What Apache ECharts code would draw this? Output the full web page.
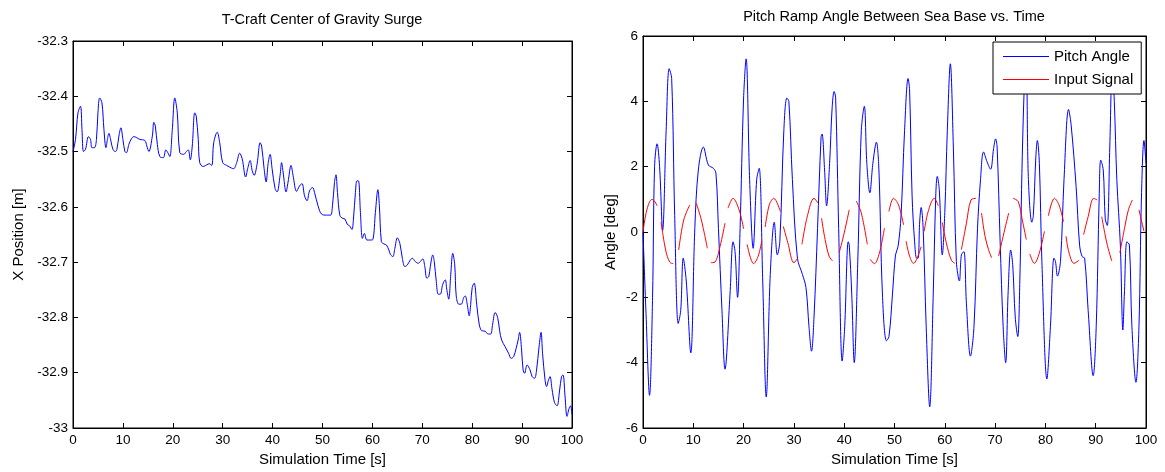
<!DOCTYPE html>
<html>
<head>
<meta charset="utf-8">
<script src="https://cdn.jsdelivr.net/npm/echarts@6/dist/echarts.min.js"></script>
<style>
html,body{margin:0;padding:0;background:#fff;}
#chart{width:1165px;height:472px;}
</style>
</head>
<body>
<div id="chart"></div>
<script>
// ---------- data ----------
const leftTitle = 'T-Craft Center of Gravity Surge';
const rightTitle = 'Pitch Ramp Angle Between Sea Base vs. Time';
const xName = 'Simulation Time [s]';
const leftYName = 'X Position [m]';
const rightYName = 'Angle [deg]';
const seriesNames = ['Pitch Angle', 'Input Signal'];

// Left chart: CG surge
const surgeT = [0,0.5,1.0,1.5,1.8,2.1,2.5,3.1,3.5,3.8,
4.3,4.7,5.0,5.35,5.8,6.2,6.6,6.9,7.2,7.6,
8.0,8.5,8.8,9.2,9.6,10.0,10.4,10.7,11.2,11.7,
12.2,13.4,14.4,14.8,15.2,15.9,16.2,16.5,16.9,17.4,
18.1,18.6,19.0,19.4,19.9,20.4,20.9,21.4,22.2,22.7,
23.1,23.5,23.9,24.4,24.7,25.1,25.4,26.1,26.8,27.3,
27.8,28.2,28.9,29.4,30.0,30.8,31.8,32.2,32.8,33.4,
33.9,34.6,35.0,35.5,35.9,36.3,36.9,37.5,37.8,38.3,
38.7,39.1,39.5,39.9,40.5,40.9,41.5,41.8,42.1,42.7,
43.1,43.7,44.1,44.8,
45.4,45.9,46.4,46.9,47.4,48.0,48.4,49.1,49.8,50.8,
51.6,52.0,52.4,52.7,53.0,53.5,54.1,54.5,55.0,55.4,
55.9,56.2,56.6,56.9,57.2,57.6,58.0,58.4,58.9,59.6,
60.1,60.6,61.1,61.4,61.8,62.3,62.8,63.3,63.6,64.1,
64.5,65.0,65.5,66.0,66.5,67.0,67.6,68.0,68.6,69.2,
69.6,70.1,70.5,70.9,71.3,71.6,72.1,72.4,72.8,73.2,
73.6,74.1,74.6,74.9,75.3,75.7,76.1,76.5,76.8,77.3,
77.8,78.3,78.6,79.0,79.4,79.7,80.0,80.4,80.9,81.4,
81.9,82.6,83.2,83.7,84.1,84.6,85.1,85.5,85.9,86.6,
87.3,87.8,88.3,88.8,89.2,89.5,89.9,90.2,90.5,91.0,
91.6,92.0,92.5,92.9,93.4,93.8,94.1,94.6,94.9,95.3,
95.6,96.0,96.5,97.0,97.5,97.9,98.2,98.6,99.0,99.4,
99.7,100];
const surgeX = [-32.500,-32.478,-32.430,-32.418,-32.460,-32.500,-32.496,-32.473,-32.478,-32.493,
-32.493,-32.478,-32.430,-32.403,-32.412,-32.460,-32.493,-32.478,-32.467,-32.481,
-32.496,-32.500,-32.496,-32.472,-32.457,-32.478,-32.500,-32.502,-32.487,-32.477,
-32.473,-32.478,-32.480,-32.490,-32.500,-32.472,-32.447,-32.454,-32.487,-32.509,
-32.511,-32.497,-32.502,-32.509,-32.460,-32.403,-32.430,-32.502,-32.505,-32.500,
-32.497,-32.515,-32.490,-32.430,-32.436,-32.478,-32.520,-32.527,-32.524,-32.522,
-32.525,-32.484,-32.465,-32.484,-32.520,-32.525,-32.530,-32.531,-32.520,-32.503,
-32.513,-32.546,-32.531,-32.516,-32.534,-32.543,-32.522,-32.484,-32.490,-32.531,
-32.555,-32.522,-32.505,-32.531,-32.567,-32.573,-32.543,-32.520,-32.537,-32.573,
-32.555,-32.525,-32.543,-32.572,
-32.562,-32.558,-32.580,-32.589,-32.571,-32.565,-32.574,-32.598,-32.613,-32.615,
-32.615,-32.598,-32.556,-32.542,-32.574,-32.616,-32.621,-32.622,-32.632,-32.634,
-32.641,-32.622,-32.574,-32.553,-32.553,-32.610,-32.657,-32.648,-32.660,-32.660,
-32.659,-32.610,-32.569,-32.598,-32.663,-32.667,-32.669,-32.678,-32.686,-32.690,
-32.675,-32.656,-32.666,-32.693,-32.708,-32.705,-32.696,-32.693,-32.699,-32.702,
-32.699,-32.694,-32.708,-32.729,-32.726,-32.708,-32.687,-32.699,-32.735,-32.758,
-32.758,-32.740,-32.732,-32.749,-32.767,-32.723,-32.684,-32.705,-32.761,-32.776,
-32.776,-32.764,-32.761,-32.776,-32.797,-32.776,-32.746,-32.738,-32.776,-32.812,
-32.824,-32.825,-32.830,-32.830,-32.812,-32.791,-32.800,-32.824,-32.841,-32.853,
-32.865,-32.874,-32.871,-32.856,-32.841,-32.827,-32.859,-32.895,-32.901,-32.886,
-32.895,-32.907,-32.910,-32.895,-32.853,-32.827,-32.865,-32.913,-32.925,-32.913,
-32.907,-32.930,-32.954,-32.960,-32.933,-32.907,-32.904,-32.942,-32.979,-32.965,
-32.960,-32.975];

// Right chart: pitch angle
const pitchT = [0,0.6,1.3,1.9,2.3,2.8,3.3,3.9,4.6,5.2,
5.7,6.3,7.0,7.5,8.0,8.6,9.5,10.3,11.0,12.0,
13.0,14.0,14.5,15.0,15.7,16.3,17.3,17.9,18.3,18.8,
19.3,20.0,20.5,21.2,21.9,22.6,23.1,23.8,24.5,25.3,
26.1,26.7,27.2,28.0,28.6,29.0,29.7,30.7,31.7,32.4,
33.0,33.5,34.0,34.7,35.4,35.6,36.1,36.5,37.1,37.6,
38.0,38.3,38.9,39.6,40.1,40.8,41.0,41.5,42.0,42.7,
43.4,44.0,44.5,45.1,45.7,46.4,46.9,47.6,48.4,48.9,
49.6,50.2,50.7,51.3,52.0,52.7,53.0,53.5,54.0,54.4,
54.7,55.0,55.3,55.7,56.3,57.0,57.7,58.2,58.5,58.9,
59.5,60.0,60.5,61.1,61.7,62.3,62.9,63.3,63.8,64.3,
65.1,65.8,66.5,67.1,67.7,68.4,69.1,69.7,70.1,70.4,
71.0,71.6,72.1,72.6,73.1,73.5,74.0,74.5,74.9,75.4,
75.9,76.2,76.6,77.3,77.6,78.1,78.4,78.8,79.3,80.3,
81.0,81.7,82.0,82.4,83.0,83.7,84.6,85.1,86.1,86.8,
87.3,87.8,88.5,89.5,90.1,90.7,91.0,91.5,91.9,92.3,
92.8,93.3,93.7,94.2,94.9,95.4,95.7,96.2,96.7,97.2,
98.0,98.6,99.1,99.6,100];
const pitchV = [0,-2.5,-5.0,-2.0,2.0,2.7,2.0,0.05,3.1,5.0,
4.7,0.5,-2.8,-2.4,-0.8,-1.5,-3.7,0.1,1.9,2.6,
2.05,1.95,1.8,0.1,-2.4,-4.2,-1.9,-0.3,-0.6,-2.0,
0.1,4.1,5.3,1.6,-0.5,1.6,1.95,-1.5,-5.05,-1.3,
0.3,-0.7,-0.3,3.1,4.1,4.0,1.6,-0.8,-1.3,-1.7,
-2.9,-3.65,-2.6,0.1,2.9,3.0,1.9,0.8,2.1,3.8,
4.3,4.1,0.1,-3.95,-2.9,-0.3,-0.4,-1.9,-4.0,-0.9,
3.1,3.85,2.1,1.2,2.1,2.75,1.9,-1.9,-3.33,-3.2,
-1.9,-0.7,-0.45,0.5,3.1,4.7,4.35,1.1,-0.3,-0.8,
-0.8,0.3,0.75,0.1,-2.9,-5.35,-1.9,1.1,1.7,1.3,
-0.7,0.6,3.1,5.15,2.6,-0.9,-1.5,-0.7,-0.6,-2.2,
-3.8,-2.9,0.1,1.6,2.45,2.15,1.92,2.55,2.85,2.6,
-0.3,-2.9,-4.0,-1.8,-0.55,-1.0,-2.6,-3.2,-1.6,2.3,
4.8,5.1,1.7,0.3,0.5,2.3,2.8,2.1,-0.9,-4.5,
-2.9,-0.8,-0.9,-1.35,-0.9,1.6,3.75,3.3,1.4,-0.4,
-0.75,-0.8,-2.4,-4.4,-2.9,1.1,2.2,1.9,0.4,0.2,
2.6,5.1,4.0,1.6,-0.4,-3.0,-1.9,-0.3,-0.4,-2.9,
-4.6,-2.9,1.1,2.8,2.1];

// Right chart: input signal (null = break between segments)
const inputT = [0,0.8,1.8,2.4,2.8,null,
3.6,4.5,5.3,6.0,null,
7.1,8.1,9.3,null,
10.6,11.6,12.8,null,
13.5,14.3,15.3,16.3,null,
16.9,17.9,19.1,20.0,null,
20.7,22.0,22.9,23.6,null,
24.3,25.1,26.0,27.3,null,
27.9,28.8,30.0,30.8,null,
31.6,32.7,34.0,34.8,null,
35.5,36.2,37.0,37.7,null,
39.0,40.0,41.0,null,
42.4,43.4,44.6,null,
45.2,46.0,47.0,48.0,null,
48.9,49.8,50.8,51.8,null,
52.3,53.0,53.8,54.4,55.3,null,
55.9,56.7,57.9,58.7,null,
59.5,60.3,61.3,62.0,null,
63.3,64.3,65.2,66.2,null,
67.3,68.0,68.7,69.3,null,
70.7,71.6,72.7,null,
73.6,74.6,75.4,76.2,null,
76.9,77.8,78.8,79.8,null,
80.6,81.8,82.7,83.6,null,
84.1,84.7,85.7,86.7,null,
87.6,88.5,89.6,90.3,null,
91.2,92.2,93.2,null,
94.8,95.8,96.5,97.3,null,
98.6,99.6];
const inputV = [0,0.7,1.0,0.92,0.8,null,
0.3,-0.55,-0.92,-0.97,null,
-0.55,0.37,0.83,null,
0.88,0.37,-0.5,null,
-0.94,-0.92,-0.45,0.27,null,
0.73,1.03,0.68,0.1,null,
-0.38,-0.97,-0.74,-0.28,null,
0.15,0.83,1.03,0.63,null,
0.17,-0.33,-0.94,-0.79,null,
-0.38,0.5,1.03,0.88,null,
0.42,-0.23,-0.74,-0.89,null,
-0.64,-0.03,0.68,null,
0.95,0.58,-0.38,null,
-0.84,-0.97,-0.64,0.12,null,
0.63,1.03,0.83,0.22,null,
-0.28,-0.74,-0.96,-0.84,-0.45,null,
0.02,0.63,1.03,0.8,null,
0.29,-0.33,-0.86,-0.96,null,
-0.54,0.27,0.98,1.03,null,
0.58,-0.13,-0.54,-0.79,null,
-0.74,-0.13,0.58,null,
1.03,0.93,0.37,-0.23,null,
-0.67,-0.96,-0.64,0.02,null,
0.5,1.03,0.83,0.32,null,
-0.13,-0.64,-0.96,-0.86,null,
-0.08,0.47,1.03,0.98,null,
0.47,-0.33,-0.89,null,
-0.64,0.17,0.68,0.98,null,
0.68,0.02];

// ---------- chart ----------
const FONT = '"Liberation Sans", Arial, Helvetica, sans-serif';
const pair = (ts, vs) => ts.map((t, i) => (t === null || vs[i] === null) ? ['-', '-'] : [t, vs[i]]);

const chart = echarts.init(document.getElementById('chart'), null, {renderer: 'canvas'});

const tickStyle = {show: true, inside: true, length: 5, lineStyle: {color: '#000', width: 1}};
const lineAx = {show: true, onZero: false, lineStyle: {color: '#000', width: 1}};
const lbl = {color: '#000', fontSize: 13.5, fontFamily: FONT};
const legendIcon = 'path://M0,0L46,0L46,1.2L0,1.2Z';

function xAxes(gi) {
  return [
    {type: 'value', gridIndex: gi, position: 'bottom', min: 0, max: 100, interval: 10,
     axisLine: lineAx, axisTick: tickStyle, splitLine: {show: false},
     axisLabel: Object.assign({margin: 5}, lbl),
     name: xName, nameLocation: 'middle', nameGap: 24,
     nameTextStyle: {color: '#000', fontSize: 15, fontFamily: FONT}},
    {type: 'value', gridIndex: gi, position: 'top', min: 0, max: 100, interval: 10,
     axisLine: lineAx, axisTick: tickStyle, splitLine: {show: false},
     axisLabel: {show: false}}
  ];
}
function yAxes(gi, mn, mx, iv, name, gap, fmt) {
  return [
    {type: 'value', gridIndex: gi, position: 'left', min: mn, max: mx, interval: iv,
     axisLine: lineAx, axisTick: tickStyle, splitLine: {show: false},
     axisLabel: Object.assign({margin: 5, formatter: fmt}, lbl),
     name: name, nameLocation: 'middle', nameGap: gap, nameRotate: 90,
     nameTextStyle: {color: '#000', fontSize: 15, fontFamily: FONT}},
    {type: 'value', gridIndex: gi, position: 'right', min: mn, max: mx, interval: iv,
     axisLine: lineAx, axisTick: tickStyle, splitLine: {show: false},
     axisLabel: {show: false}}
  ];
}

const option = {
  animation: false,
  backgroundColor: '#fff',
  textStyle: {fontFamily: FONT},
  graphic: [
    {type: 'text', x: 322, y: 20,
     style: {text: leftTitle, textAlign: 'center', textVerticalAlign: 'middle', fill: '#000', fontSize: 14.5, fontFamily: FONT}},
    {type: 'text', x: 894, y: 17,
     style: {text: rightTitle, textAlign: 'center', textVerticalAlign: 'middle', fill: '#000', fontSize: 14.5, fontFamily: FONT}}
  ],
  grid: [
    {left: 73, top: 41, width: 499, height: 391, show: true, borderColor: '#000', borderWidth: 1, backgroundColor: '#fff'},
    {left: 643, top: 36, width: 503, height: 396, show: true, borderColor: '#000', borderWidth: 1, backgroundColor: '#fff'}
  ],
  xAxis: xAxes(0).concat(xAxes(1)),
  yAxis: yAxes(0, -33, -32.3, 0.1, leftYName, 47, v => String(Number(v.toFixed(1))))
        .concat(yAxes(1, -6, 6, 2, rightYName, 25, v => String(Math.round(v)))),
  legend: {
    data: [{name: seriesNames[0], icon: legendIcon}, {name: seriesNames[1], icon: legendIcon}],
    orient: 'vertical',
    left: 993, top: 42,
    padding: [7, 8, 7, 10],
    itemWidth: 46, itemHeight: 14, itemGap: 8,
    symbolKeepAspect: true,
    backgroundColor: '#fff',
    borderColor: '#000', borderWidth: 1, borderRadius: 0,
    textStyle: {color: '#000', fontSize: 15, fontFamily: FONT},
    zlevel: 1, z: 10
  },
  series: [
    {name: 'CG Surge', type: 'line', xAxisIndex: 0, yAxisIndex: 0,
     data: pair(surgeT, surgeX), symbol: 'none', smooth: 0.35,
     lineStyle: {color: '#0000ff', width: 1}, itemStyle: {color: '#0000ff'}},
    {name: seriesNames[0], type: 'line', xAxisIndex: 2, yAxisIndex: 2,
     data: pair(pitchT, pitchV), symbol: 'none', smooth: 0.35,
     lineStyle: {color: '#0000ff', width: 1}, itemStyle: {color: '#0000ff'}},
    {name: seriesNames[1], type: 'line', xAxisIndex: 2, yAxisIndex: 2,
     data: pair(inputT, inputV), symbol: 'none', smooth: 0.35, connectNulls: false,
     lineStyle: {color: '#ff0000', width: 1}, itemStyle: {color: '#ff0000'}}
  ]
};
chart.setOption(option);
</script>
</body>
</html>
